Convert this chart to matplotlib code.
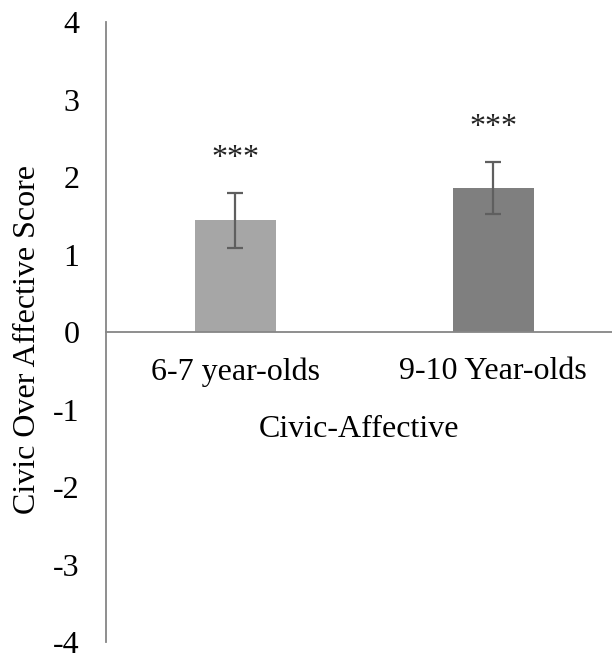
import matplotlib
matplotlib.use("Agg")
import matplotlib.pyplot as plt
import matplotlib.transforms as mtransforms

categories = ["6-7 year-olds", "9-10 Year-olds"]
values = [1.44, 1.86]
errors = [0.35, 0.335]
sig_labels = ["***", "***"]
bar_colors = ["#A6A6A6", "#7F7F7F"]
y_ticks = [-4, -3, -2, -1, 0, 1, 2, 3, 4]

plt.rcParams['font.family'] = ['Liberation Serif', 'DejaVu Serif']
FS = 23

fig = plt.figure(figsize=(6.12, 6.57), dpi=100)
ax = fig.add_axes([0.1732, 0.0228, 0.8268, 0.9437])

x = list(range(len(categories)))
ax.bar(x, values, width=0.314, color=bar_colors, zorder=2)
ax.errorbar(x, values, yerr=errors, fmt='none', ecolor='#5F5F5F', elinewidth=1.6,
            capsize=6, capthick=1.6, zorder=3)
for xi, v, e, s in zip(x, values, errors, sig_labels):
    ax.text(xi, v + e + 0.45, s, ha='center', va='center', fontsize=FS, color='#222222')

ax.set_xlim(-0.502, 1.46)
ax.set_ylim(-4, 4)
ax.set_yticks(y_ticks)
ax.set_yticklabels([str(t) for t in y_ticks])
ax.tick_params(axis='y', length=0, pad=19, labelsize=FS)
ax.set_xticks(x)
ax.set_xticklabels(categories)
ax.tick_params(axis='x', length=0, pad=18, labelsize=FS)

for side in ['top', 'right']:
    ax.spines[side].set_visible(False)
ax.spines['bottom'].set_position(('data', 0))
ax.spines['bottom'].set_color('#868686')
ax.spines['bottom'].set_linewidth(1.3)
ax.spines['left'].set_color('#868686')
ax.spines['left'].set_linewidth(1.3)

trans = mtransforms.blended_transform_factory(ax.transAxes, ax.transData)
ax.text(0.5, -1.26, "Civic-Affective", transform=trans, ha='center', va='center', fontsize=FS)
ax.set_ylabel("Civic Over Affective Score", fontsize=FS)
ax.yaxis.set_label_coords(-0.126, 0.488)

fig.savefig("out.png", dpi=100)
